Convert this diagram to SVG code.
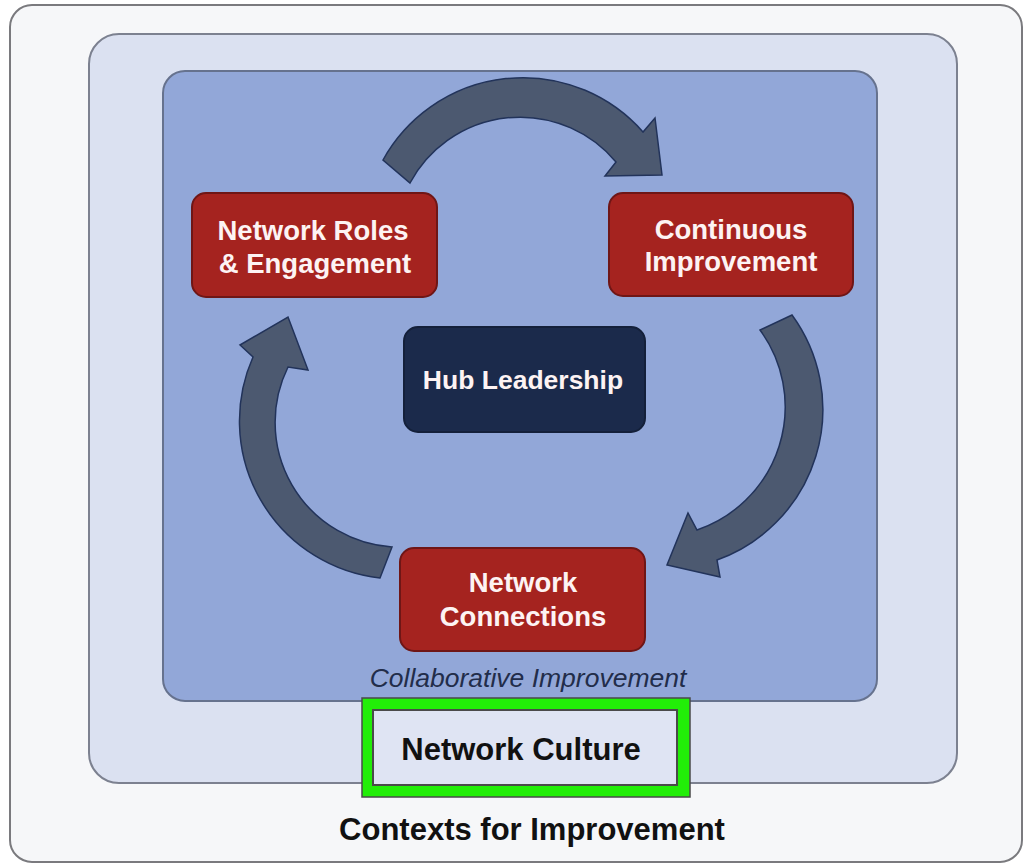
<svg xmlns="http://www.w3.org/2000/svg" width="1025" height="864" viewBox="0 0 1025 864">
<style>
.frame{stroke-width:2}
.red{fill:#a5231f;stroke:#6f1616;stroke-width:2}
.hub{fill:#1b2a4b;stroke:#14203a;stroke-width:2}
.arrow{fill:#4c5970;stroke:#22335a;stroke-width:1.5;stroke-linejoin:miter}
.wt{font-family:"Liberation Sans",Arial,sans-serif;font-weight:bold;font-size:27.5px;fill:#fdf3f3;text-anchor:middle}
.bt{font-family:"Liberation Sans",Arial,sans-serif;font-weight:bold;font-size:31px;fill:#111111;text-anchor:middle}
</style>
<rect width="1025" height="864" fill="#ffffff"/>
<g id="contexts">
<rect class="frame" x="10" y="5" width="1012" height="857" rx="22" fill="#f6f7f9" stroke="#7a7a7e"/>
<text class="bt" x="532" y="840">Contexts for Improvement</text>
</g>
<g id="culture-area">
<rect class="frame" x="89" y="34" width="868" height="749" rx="30" fill="#dbe1f1" stroke="#7c8190"/>
</g>
<g id="collaborative">
<rect class="frame" x="163" y="71" width="714" height="630" rx="22" fill="#92a7d8" stroke="#66728e"/>
<text x="528" y="687" font-family="'Liberation Sans',Arial,sans-serif" font-style="italic" font-size="26.5" fill="#222d4a" text-anchor="middle">Collaborative Improvement</text>
</g>
<g id="connectors">
<path class="arrow" d="M383,160 A160,160 0 0 1 643,132 L655,118 L662,175 L605,176 L616,162 A125,125 0 0 0 410,183 Z"/>
<path class="arrow" d="M792,315 A160,160 0 0 1 717,560 L720,577 L667,565 L688,513 L697,530 A130,130 0 0 0 760,330 Z"/>
<path class="arrow" d="M380,578 A158,158 0 0 1 253,357 L240,345 L288,317 L308,370 L288,367 A125,125 0 0 0 392,547 Z"/>
</g>
<g id="roles">
<rect class="red" x="192" y="193" width="245" height="104" rx="14"/>
<text class="wt" x="313" y="240">Network Roles</text>
<text class="wt" x="315" y="273">&amp; Engagement</text>
</g>
<g id="continuous">
<rect class="red" x="609" y="193" width="244" height="103" rx="14"/>
<text class="wt" x="731" y="239">Continuous</text>
<text class="wt" x="731" y="271">Improvement</text>
</g>
<g id="hub">
<rect class="hub" x="404" y="327" width="241" height="105" rx="14"/>
<text class="wt" x="523" y="389" style="font-size:26.5px">Hub Leadership</text>
</g>
<g id="connections">
<rect class="red" x="400" y="548" width="245" height="103" rx="14"/>
<text class="wt" x="523" y="592">Network</text>
<text class="wt" x="523" y="626">Connections</text>
</g>
<g id="culture">
<rect x="362" y="698" width="328" height="99" fill="#22ee08" stroke="#4a4a4a" stroke-width="1.5"/>
<rect x="373" y="710" width="304" height="75" fill="#dfe4f3" stroke="#4a4a4a" stroke-width="2"/>
<text class="bt" x="521" y="760">Network Culture</text>
</g>
</svg>
